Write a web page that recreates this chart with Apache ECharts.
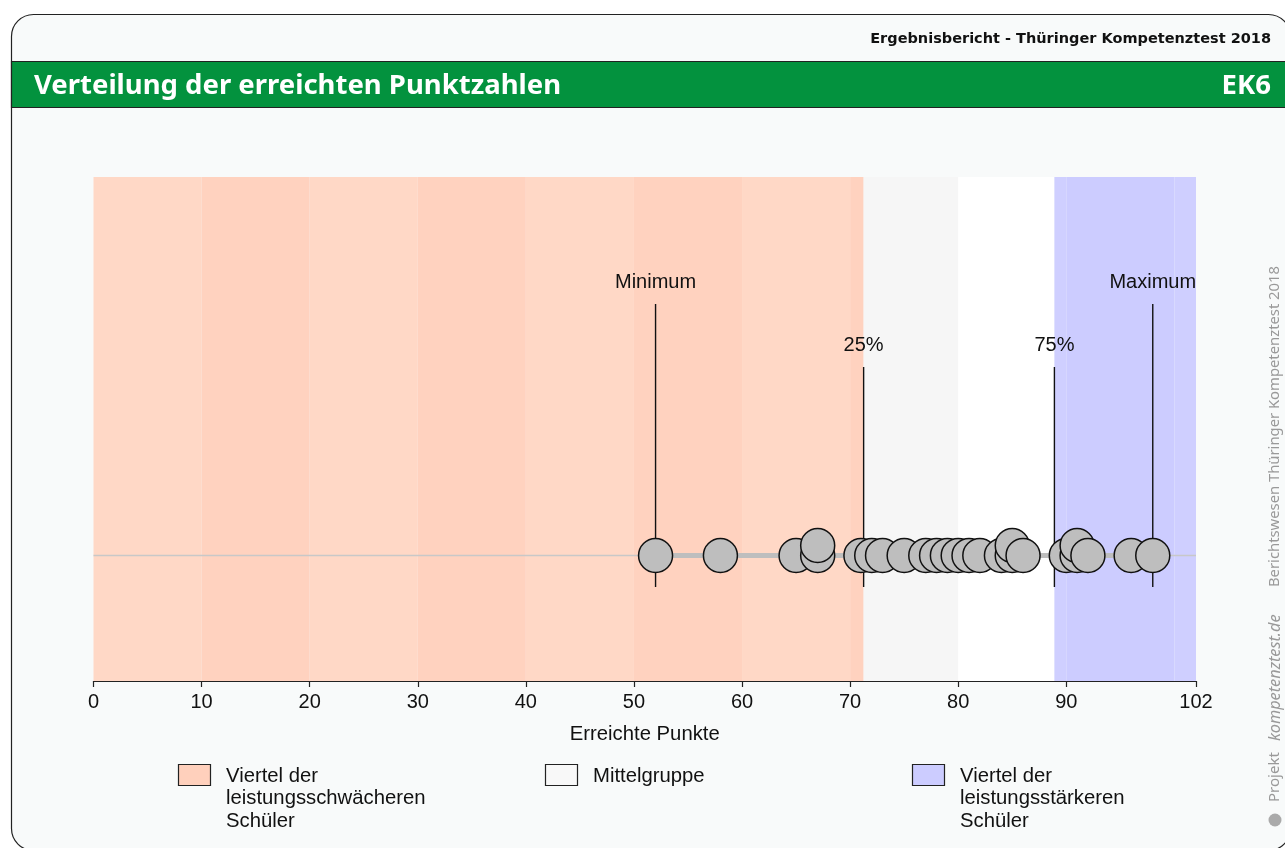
<!DOCTYPE html>
<html><head><meta charset="utf-8">
<style>html,body{margin:0;padding:0;background:#fff}#c{width:1285px;height:848px}</style>
<script src="https://cdn.jsdelivr.net/npm/echarts@6/dist/echarts.min.js"></script>
</head><body><div id="c"></div>
<script>
// Data
const xTicks = [0,10,20,30,40,50,60,70,80,90,102];
const bandEdges = [0,10,20,30,40,50,60,70,71.25,80,88.9,90,100,102];
const pointScores = [52,58,65,67,67,71,72,73,75,77,78,79,80,81,82,84,85,85,86,90,91,91,92,96,98];
const pointLevels = [0,0,0,0,1,0,0,0,0,0,0,0,0,0,0,0,0,1,0,0,0,1,0,0,0];
const markerNames = ['Minimum','25%','75%','Maximum'];
const markerValues = [52,71.25,88.9,98];
const markerHeights = [25.15,18.85,18.85,25.15];
const legendNames = ['Viertel der\nleistungsschwächeren\nSchüler','Mittelgruppe','Viertel der\nleistungsstärkeren\nSchüler'];

const bandColors = ['#FFD8C6','#FFD2BF','#FFD8C6','#FFD2BF','#FFD8C6','#FFD2BF','#FFD8C6','#FFD2BF','#F6F6F6','#FFFFFF','#CFCFFF','#CCCCFF','#CFCFFF'];
const legendColors = ['#FFD0BC','#F8F8F8','#CCCCFF'];
const legendX = [178,545,912];
const FF = '"Liberation Sans",Arial,sans-serif';
const HF = '"Noto Sans",sans-serif';
const DF = '"DejaVu Sans",sans-serif';

const bands = bandEdges.slice(0,-1).map((s,i)=>[s,bandEdges[i+1],i]);
const points = pointScores.map((s,i)=>[s,pointLevels[i]]);
const markers = markerValues.map((v,i)=>[v,markerHeights[i],i]);

const graphic = [
 {type:'rect',z:-10,silent:true,shape:{x:11.5,y:14.5,width:1279,height:836,r:22},style:{fill:'#F8FAFA',stroke:'#222',lineWidth:1.2}},
 {type:'rect',z:-9,silent:true,shape:{x:11.5,y:61.5,width:1290,height:46},style:{fill:'#03923E',stroke:'#222',lineWidth:1.2}},
 {type:'text',z:5,style:{x:1271,y:39,text:'Ergebnisbericht - Thüringer Kompetenztest 2018',font:'bold 14.5px '+DF,fill:'#111',textAlign:'right',textVerticalAlign:'middle'}},
 {type:'text',z:5,style:{x:34,y:86.5,text:'Verteilung der erreichten Punktzahlen',font:'bold 27.5px '+HF,fill:'#fff',textAlign:'left',textVerticalAlign:'middle'}},
 {type:'text',z:5,style:{x:1271,y:86.5,text:'EK6',font:'bold 27.5px '+HF,fill:'#fff',textAlign:'right',textVerticalAlign:'middle'}},
 {type:'text',z:5,x:1275,y:587,rotation:Math.PI/2,style:{x:0,y:0,text:'Berichtswesen Thüringer Kompetenztest 2018',font:'14.8px '+HF,fill:'#999',textAlign:'left',textVerticalAlign:'middle'}},
 {type:'text',z:5,x:1275,y:802,rotation:Math.PI/2,style:{x:0,y:0,text:'Projekt',font:'15px '+HF,fill:'#999',textAlign:'left',textVerticalAlign:'middle'}},
 {type:'text',z:5,x:1275,y:741,rotation:Math.PI/2,style:{x:0,y:0,text:'kompetenztest.de',font:'italic 16.3px '+HF,fill:'#999',textAlign:'left',textVerticalAlign:'middle'}},
 {type:'circle',z:5,silent:true,shape:{cx:1275,cy:820,r:6.5},style:{fill:'#aaa'}},
];
legendNames.forEach((name,i)=>{
  graphic.push({type:'rect',z:5,silent:true,shape:{x:legendX[i]+0.5,y:764.5,width:32,height:21},style:{fill:legendColors[i],stroke:'#222',lineWidth:1.2}});
  name.split('\n').forEach((t,j)=>graphic.push({type:'text',z:5,style:{x:legendX[i]+48,y:776+j*22.5,text:t,font:'20.3px '+FF,fill:'#111',textAlign:'left',textVerticalAlign:'middle'}}));
});

const chart = echarts.init(document.getElementById('c'),null,{renderer:'canvas'});
chart.setOption({
 animation:false,
 graphic,
 grid:{left:93.5,right:89,top:177,bottom:167},
 xAxis:{type:'value',min:0,max:102,interval:10,splitLine:{show:false},
   name:'Erreichte Punkte',nameLocation:'middle',nameGap:43,nameTextStyle:{fontFamily:FF,fontSize:20.3,color:'#111'},
   axisLine:{show:true,onZero:false,lineStyle:{color:'#222',width:1.2}},
   axisTick:{show:true,length:6,inside:false,lineStyle:{color:'#222',width:1.2},customValues:xTicks},
   axisLabel:{fontFamily:FF,fontSize:20,color:'#111',margin:11,customValues:xTicks,showMinLabel:true,showMaxLabel:true}},
 yAxis:{type:'value',min:-12.55,max:37.85,show:false,splitLine:{show:false}},
 series:[
  {type:'custom',name:'bands',z:1,silent:true,data:bands,encode:{x:[0,1]},
   renderItem(p,api){
     const a=api.coord([api.value(0),37.85]),b=api.coord([api.value(1),-12.55]);
     return {type:'rect',shape:{x:a[0],y:a[1],width:b[0]-a[0],height:b[1]-a[1]},style:{fill:bandColors[api.value(2)]}};
   }},
  {type:'line',name:'range',z:2,silent:true,symbol:'none',data:[[0,0],[102,0]],lineStyle:{color:'#C8C8C8',width:1.5}},
  {type:'line',name:'spread',z:2,silent:true,symbol:'none',data:[[markerValues[0],0],[markerValues[3],0]],lineStyle:{color:'#BEBEBE',width:5}},
  {type:'custom',name:'markers',z:3,silent:true,data:markers,encode:{x:0,y:1},clip:false,
   renderItem(p,api){
     const a=api.coord([api.value(0),api.value(1)]),b=api.coord([api.value(0),-3.15]);
     return {type:'group',children:[
       {type:'line',shape:{x1:a[0],y1:a[1],x2:b[0],y2:b[1]},style:{stroke:'#111',lineWidth:1.4}},
       {type:'text',style:{x:a[0],y:a[1]-22,text:markerNames[api.value(2)],font:'20px '+FF,fill:'#111',textAlign:'center',textVerticalAlign:'middle'}}
     ]};
   }},
  {type:'scatter',name:'Schüler',z:4,silent:true,symbol:'circle',symbolSize:34,data:points,
   itemStyle:{color:'#BEBEBE',borderColor:'#111',borderWidth:1.5,opacity:1}}
 ]
});
</script></body></html>
